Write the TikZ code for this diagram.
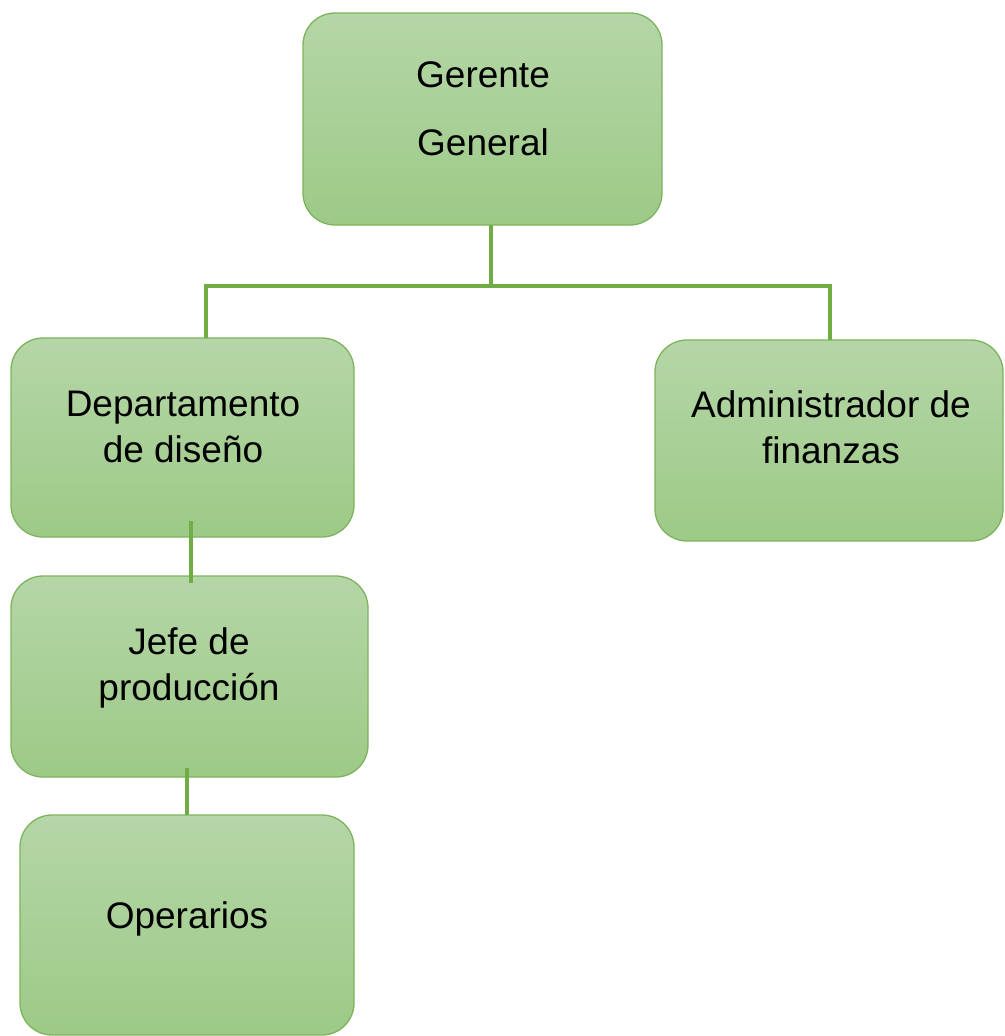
\documentclass[tikz,border=0pt]{standalone}
\usepackage{fontspec}
\setmainfont{Liberation Sans}
\definecolor{topfill}{HTML}{B5D6A7}
\definecolor{botfill}{HTML}{9DCA87}
\definecolor{boxline}{HTML}{7DB35C}
\definecolor{connline}{HTML}{70AD47}
\begin{document}
\begin{tikzpicture}[x=1pt,y=-1pt,
  box/.style={draw=boxline,line width=1.3pt,rounded corners=32pt,
    top color=topfill,bottom color=botfill,inner sep=0pt,outer sep=0pt},
  lbl/.style={anchor=base,inner sep=0pt,font=\fontsize{37}{46}\selectfont},
  conn/.style={draw=connline,line width=4pt}]
\useasboundingbox (0,0) rectangle (1004,1036);
\node[box,minimum width=359pt,minimum height=212pt] (g) at (482.5,119) {};
\node[box,minimum width=343pt,minimum height=199pt] (d) at (182.5,437.5) {};
\node[box,minimum width=348pt,minimum height=201pt] (a) at (829,440.5) {};
\node[box,minimum width=357pt,minimum height=201pt] (j) at (189.5,676.5) {};
\node[box,minimum width=334pt,minimum height=220pt] (o) at (187,925) {};
\node[lbl] (g1) at (483,87) {Gerente};
\node[lbl] (g2) at (483,155) {General};
\node[lbl] (d1) at (183,416) {Departamento};
\node[lbl] (d2) at (183,462) {de diseño};
\node[lbl] (a1) at (831,417) {Administrador de};
\node[lbl] (a2) at (831,463) {finanzas};
\node[lbl] (j1) at (189,654) {Jefe de};
\node[lbl] (j2) at (189,700) {producción};
\node[lbl] (o1) at (187,928) {Operarios};
\coordinate (busL) at (206,286);
\coordinate (busM) at (491,286);
\coordinate (busR) at (830,286);
\draw[conn] (g.south -| busM) -- (busM);
\draw[conn] (d.north -| busL) -- (busL) -- (busR) -- (a.north -| busR);
\draw[conn] ([xshift=8.5pt,yshift=16pt]d.south) -- ([xshift=1.5pt,yshift=-7pt]j.north);
\draw[conn] ([xshift=-2.5pt,yshift=9pt]j.south) -- (o.north);
\end{tikzpicture}
\end{document}
